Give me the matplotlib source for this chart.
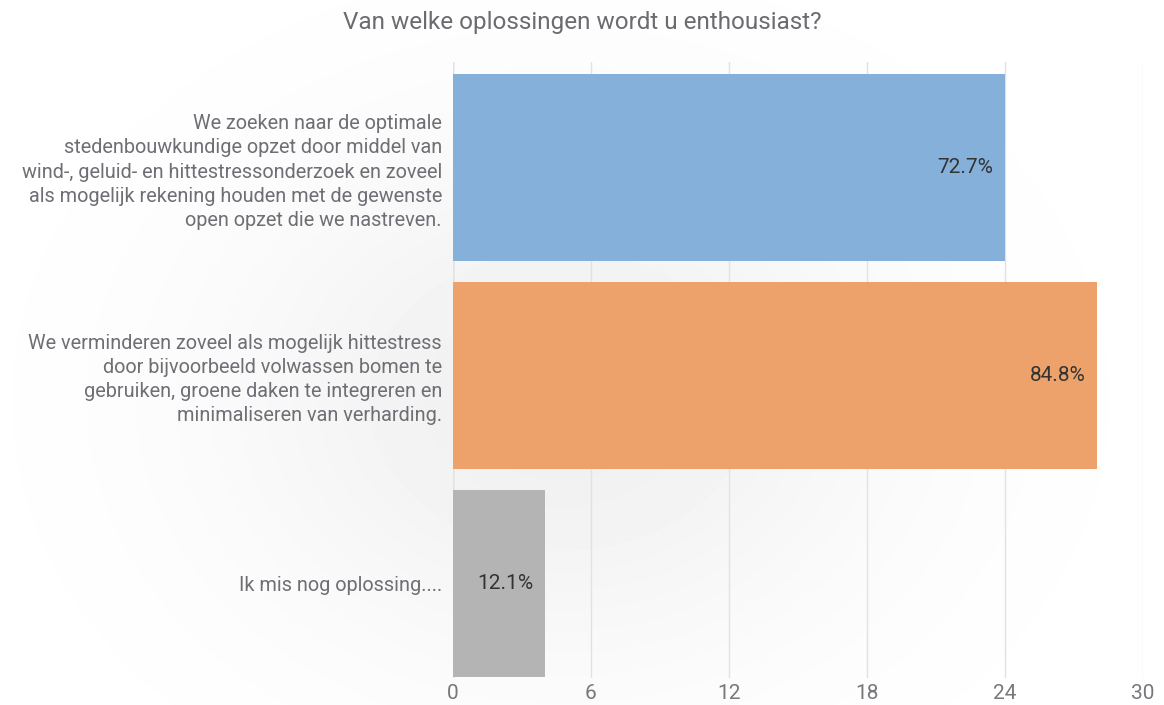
import numpy as np
import matplotlib.pyplot as plt

plt.rcParams['font.family'] = ['Roboto', 'DejaVu Sans']

# data
labels = [
    "We zoeken naar de optimale\nstedenbouwkundige opzet door middel van\n"
    "wind-, geluid- en hittestressonderzoek en zoveel\n"
    "als mogelijk rekening houden met de gewenste\nopen opzet die we nastreven.",
    "We verminderen zoveel als mogelijk hittestress\ndoor bijvoorbeeld volwassen bomen te\n"
    "gebruiken, groene daken te integreren en\nminimaliseren van verharding.",
    "Ik mis nog oplossing....",
]
counts = [24, 28, 4]
pct_labels = ["72.7%", "84.8%", "12.1%"]
colors = ["#85b0d9", "#eda16b", "#b4b4b4"]
xticks = [0, 6, 12, 18, 24, 30]

fig = plt.figure(figsize=(11.64, 7.05), dpi=100)

# soft grey halo in the background
bg = fig.add_axes([0, 0, 1, 1], zorder=0)
yy, xx = np.mgrid[0:705, 0:1164]
d = np.sqrt(((xx - 560) / 420.0) ** 2 + ((yy - 400) / 330.0) ** 2)
shade = 1.0 - 0.06 * np.exp(-d ** 2 * 1.6)
bg.imshow(shade, cmap='gray', vmin=0, vmax=1, aspect='auto', interpolation='bilinear')
bg.axis('off')

ax = fig.add_axes([453 / 1164, 1 - 678 / 705, 690 / 1164, 616 / 705], zorder=1)
ax.patch.set_alpha(0)

y = np.arange(len(counts))
ax.barh(y, counts, height=0.9, color=colors, zorder=2)

for i, (c, t) in enumerate(zip(counts, pct_labels)):
    ax.text(c - 0.5, i, t, ha='right', va='center', fontsize=15, color='#333333', zorder=3)

ax.set_xlim(0, 30)
ax.set_ylim(2.457, -0.508)
ax.set_xticks(xticks)
ax.set_yticks(y)
ax.set_yticklabels(labels, fontsize=14.3, color='#6e6e74', linespacing=1.34)
ax.tick_params(axis='y', length=0, pad=8)
ax.tick_params(axis='x', length=0, pad=4, labelsize=15, labelcolor='#77777c')
ax.grid(axis='x', color='#e2e2e2', linewidth=1, zorder=0)
ax.axvline(0, color='#cfcfcf', linewidth=1, zorder=1)
for s in ax.spines.values():
    s.set_visible(False)

fig.text(582 / 1164, 1 - 22 / 705, "Van welke oplossingen wordt u enthousiast?",
         ha='center', va='center', fontsize=17.5, color='#6b6b70')

fig.savefig('out.png', dpi=100)
